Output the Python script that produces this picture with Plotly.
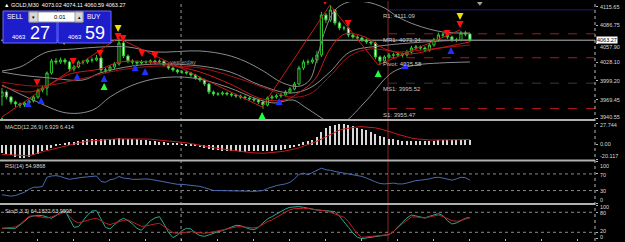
import plotly.graph_objects as go

# ---------------- data ----------------
bars = list(range(105))
open_ = [3975.0, 3981.6, 3973.7, 3965.8, 3962.7, 3961.1, 3964.3, 3967.4, 3973.7, 3984.7,
         3987.9, 4011.6, 4030.5, 4028.9, 4032.1, 4028.9, 4017.9, 4021.0, 4028.9, 4028.9,
         4032.1, 4032.1, 4035.2, 4016.3, 4016.3, 4021.0, 4025.8, 4058.9, 4038.4, 4030.5,
         4028.9, 4027.3, 4028.9, 4028.9, 4030.5, 4028.9, 4030.0, 4024.2, 4019.5, 4016.3,
         4013.2, 4013.2, 4011.6, 4008.4, 4003.7, 4000.5, 3994.2, 3981.6, 3978.4, 3978.4,
         3980.0, 3978.4, 3976.9, 3975.3, 3973.7, 3972.1, 3970.6, 3969.0, 3965.8, 3961.1,
         3972.1, 3973.7, 3975.3, 3976.9, 3981.6, 3986.3, 3994.2, 4019.5, 4028.9, 4028.9,
         4032.1, 4039.9, 4103.0, 4095.2, 4110.9, 4090.4, 4082.5, 4082.5, 4071.5, 4068.3,
         4066.8, 4063.6, 4060.5, 4058.9, 4036.8, 4030.5, 4036.8, 4039.9, 4039.9, 4041.5,
         4039.9, 4044.7, 4051.0, 4052.6, 4051.0, 4047.8, 4055.7, 4063.6, 4071.5, 4071.5,
         4068.3, 4063.6, 4063.6, 4074.6, 4073.02]
high = [3988.0, 3984.0, 3975.0, 3968.0, 3965.0, 3967.0, 3970.0, 3976.0, 3987.0, 3991.0,
        4014.0, 4034.0, 4035.0, 4036.0, 4035.0, 4031.0, 4024.0, 4031.0, 4032.0, 4035.0,
        4036.0, 4040.0, 4038.0, 4020.0, 4024.0, 4029.0, 4066.0, 4062.0, 4041.0, 4033.0,
        4031.0, 4032.0, 4031.5, 4033.0, 4032.5, 4033.0, 4032.0, 4026.0, 4021.5, 4018.0,
        4016.0, 4015.0, 4013.5, 4010.0, 4006.0, 4002.5, 3996.0, 3984.0, 3981.5, 3983.0,
        3982.0, 3980.5, 3979.0, 3977.5, 3976.0, 3974.5, 3973.0, 3971.0, 3968.0, 3974.5,
        3977.0, 3978.5, 3980.0, 3984.5, 3989.5, 3997.5, 4023.0, 4032.5, 4033.0, 4036.0,
        4046.0, 4107.8, 4106.0, 4118.8, 4112.0, 4093.0, 4086.0, 4084.5, 4074.0, 4071.0,
        4069.0, 4066.0, 4063.0, 4061.0, 4039.0, 4039.5, 4043.0, 4043.5, 4045.0, 4044.0,
        4048.0, 4054.5, 4056.0, 4055.0, 4053.5, 4059.0, 4067.0, 4075.0, 4075.0, 4073.5,
        4070.5, 4067.0, 4078.0, 4078.0, 4074.11]
low = [3960.0, 3970.0, 3962.0, 3958.0, 3956.5, 3958.0, 3961.0, 3965.0, 3971.0, 3981.0,
       3976.0, 4009.0, 4025.0, 4026.0, 4025.0, 4014.0, 4014.0, 4019.0, 4025.0, 4026.0,
       4028.0, 4030.0, 4012.0, 4011.0, 4013.0, 4018.0, 4023.0, 4035.0, 4027.0, 4025.0,
       4024.0, 4025.0, 4026.0, 4026.5, 4026.0, 4026.5, 4021.5, 4017.0, 4013.5, 4010.5,
       4010.0, 4009.0, 4005.5, 4001.0, 3997.5, 3991.0, 3978.0, 3975.0, 3975.5, 3976.0,
       3975.5, 3974.0, 3972.5, 3971.0, 3969.5, 3968.0, 3966.0, 3962.5, 3955.0, 3959.0,
       3969.5, 3971.0, 3972.5, 3974.5, 3979.0, 3984.0, 3992.0, 4016.0, 4024.5, 4026.0,
       4027.0, 4037.0, 4090.0, 4092.0, 4087.0, 4079.0, 4078.5, 4068.0, 4065.5, 4063.5,
       4060.5, 4057.5, 4055.5, 4033.0, 4024.0, 4027.5, 4034.0, 4035.5, 4036.5, 4036.0,
       4037.5, 4042.0, 4048.0, 4047.5, 4044.5, 4045.0, 4053.0, 4061.0, 4067.5, 4065.0,
       4060.5, 4060.0, 4061.5, 4069.5, 4060.59]
close = [3981.6, 3973.7, 3965.8, 3962.7, 3961.1, 3964.3, 3967.4, 3973.7, 3984.7, 3987.9,
         4011.6, 4030.5, 4028.9, 4032.1, 4028.9, 4017.9, 4021.0, 4028.9, 4028.9, 4032.1,
         4032.1, 4035.2, 4016.3, 4016.3, 4021.0, 4025.8, 4058.9, 4038.4, 4030.5, 4028.9,
         4027.3, 4028.9, 4028.9, 4030.5, 4028.9, 4030.0, 4024.2, 4019.5, 4016.3, 4013.2,
         4013.2, 4011.6, 4008.4, 4003.7, 4000.5, 3994.2, 3981.6, 3978.4, 3978.4, 3980.0,
         3978.4, 3976.9, 3975.3, 3973.7, 3972.1, 3970.6, 3969.0, 3965.8, 3961.1, 3972.1,
         3973.7, 3975.3, 3976.9, 3981.6, 3986.3, 3994.2, 4019.5, 4028.9, 4028.9, 4032.1,
         4039.9, 4103.0, 4095.2, 4110.9, 4090.4, 4082.5, 4082.5, 4071.5, 4068.3, 4066.8,
         4063.6, 4060.5, 4058.9, 4036.8, 4030.5, 4036.8, 4039.9, 4039.9, 4041.5, 4039.9,
         4044.7, 4051.0, 4052.6, 4051.0, 4047.8, 4055.7, 4063.6, 4071.5, 4071.5, 4068.3,
         4063.6, 4063.6, 4074.6, 4073.02, 4063.27]

# Bollinger bands / moving averages / zigzag (vertices: bar index, price)
bb_up_x = [0, 4, 10, 16, 22, 28, 34, 44, 50, 54, 58, 62.4, 66, 68.4, 70.2, 72, 74, 77, 81, 85, 88, 92, 98, 104]
bb_up_y = [4014.7, 4021.0, 4044.7, 4049.4, 4052.6, 4052.6, 4044.7, 4046.3, 4039.9, 4030.0, 4015.0, 3995.8,
           3990.5, 4000.5, 4040.0, 4082.5, 4110.9, 4123.5, 4123.5, 4114.1, 4099.9, 4087.3, 4076.2, 4074.6]
bb_mid_x = [0, 4, 10.7, 18, 21.8, 29, 35, 44, 50.7, 57.3, 64, 68.4, 72.9, 77.3, 84, 90.7, 97.3, 104]
bb_mid_y = [4013.2, 4008.4, 4003.7, 4000.5, 4011.6, 4022.6, 4025.8, 4022.6, 4013.2, 3992.6, 3980.0, 3987.9,
            4013.2, 4044.7, 4054.2, 4058.9, 4062.0, 4063.6]
bb_lo_x = [0, 6.9, 14.4, 20.2, 24, 29.1, 35.1, 42.4, 50, 57.3, 60.7, 64.7, 67.3, 70.7, 74, 76.2, 81.1, 86.9, 92.2, 97.3, 104]
bb_lo_y = [3992.6, 3969.0, 3948.5, 3953.2, 3973.7, 3992.6, 4003.7, 4003.7, 3989.5, 3969.0, 3964.3, 3969.0,
           3958.0, 3942.2, 3928.0, 3934.3, 3969.0, 4013.2, 4024.2, 4027.3, 4028.9]
ma_fast_x = [0, 6.2, 10.7, 15.1, 21.8, 26.2, 32.9, 38.4, 44, 50.7, 57.8, 62.9, 66.2, 69.6, 72.9, 76.2, 80.7, 85.1, 90.7, 96.2, 104]
ma_fast_y = [3990.9, 3981.6, 3994.2, 4010.0, 4017.9, 4028.9, 4028.9, 4022.6, 4013.2, 3994.2, 3970.6, 3969.0,
             3981.6, 4002.1, 4049.4, 4073.1, 4068.3, 4049.4, 4041.5, 4049.4, 4060.5]
ma_slow_x = [0, 8.4, 17.3, 26.2, 35.1, 44, 52.9, 59.6, 64, 68.4, 72.9, 77.3, 81.8, 88.4, 95.1, 104]
ma_slow_y = [3997.3, 3990.9, 4001.9, 4016.3, 4022.6, 4019.5, 4002.1, 3984.7, 3973.7, 3978.4, 4006.8, 4038.4,
             4049.4, 4044.7, 4049.4, 4055.7]
zz_x = [0, 25.8, 57.8, 72.9, 83.6, 101.8]
zz_y = [3942.2, 4066.8, 3958.0, 4118.8, 4024.2, 4079.4]

# signal arrows
yellow_x = [13.8, 25.8, 101.8]
yellow_y = [4055.7, 4076.2, 4095.2]
red_x = [7.8, 15.8, 21.8, 25.8, 26.9, 31.1, 34.0, 71.8, 76.9, 98.9, 101.8]
red_y = [3991.1, 4024.2, 4036.8, 4063.6, 4060.5, 4036.8, 4033.6, 4118.8, 4084.1, 4068.3, 4082.5]
blue_x = [5.8, 8.7, 16.7, 22.7, 29.6, 31.8, 61.6, 89.6, 99.8]
blue_y = [3969.0, 3973.7, 4011.6, 4008.4, 4025.8, 4019.5, 3972.1, 4028.9, 4052.6]
lime_x = [0, 22.7, 57.8, 83.6]
lime_y = [3942.2, 3995.8, 3950.1, 4016.3]

# pivot levels
pivot_names = ["R1", "MR1", "Pivot", "MS1", "S1"]
pivot_vals = [4111.09, 4073.34, 4035.58, 3995.52, 3955.47]
pivot_colors = ["#1c1c78", "#9a1e1e", "#b01818", "#3a3a3a", "#b01818"]
pivot_dash = ["solid", "dash", "dash", "dash", "dash"]

# right-scale labels: (text, pixel row)
price_ticks = [4115.65, 4086.75, 4057.90, 4028.10, 3999.20, 3969.45, 3940.55]
price_label_rows = [7, 25.5, 46.5, 62.5, 81, 100, 117.5]
macd_ticks = [27.744, 0.0, -20.117]
macd_labels = ["27.744", "0.00", "-20.117"]
macd_label_rows = [125, 144, 155.5]
rsi_ticks = [100, 70, 30, 0]
rsi_label_rows = [165.5, 175, 191, 199.5]
sto_ticks = [100, 80, 20, 0]
sto_label_rows = [207, 213, 230.5, 236.5]
last_price = 4063.27

macd = [-10.7, -12.3, -14.0, -15.8, -17.2, -17.4, -15.8, -13.2, -11.7, -8.7,
        -6.7, -4.2, -2.0, 0.7, 1.9, 3.1, 3.9, 4.7, 6.0, 7.2,
        7.3, 7.6, 7.8, 8.3, 8.0, 7.8, 8.5, 8.4, 8.0, 7.6,
        7.2, 6.7, 6.2, 5.5, 4.7, 4.0, 3.2, 2.4, 1.8, 1.1,
        0.4, -0.4, -1.3, -2.2, -3.2, -4.3, -5.4, -6.4, -7.2, -7.8,
        -8.5, -8.9, -8.9, -9.1, -9.1, -8.9, -8.9, -8.7, -8.7, -8.3,
        -7.8, -7.3, -6.7, -6.0, -4.9, -3.2, -0.5, 3.7, 5.1, 7.0,
        10.2, 17.2, 21.9, 24.5, 26.4, 27.744, 27.2, 26.0, 24.5, 22.7,
        20.9, 19.6, 16.9, 13.8, 11.6, 9.8, 8.4, 7.1, 5.8, 4.9,
        4.5, 4.5, 4.5, 4.5, 4.7, 5.1, 5.6, 6.0, 6.1, 6.1,
        6.2, 6.4, 6.6, 6.8, 6.929]
macd_signal = [-13.6, -14.0, -14.5, -14.9, -15.3, -15.5, -15.3, -13.5, -11.4, -9.9,
               -8.4, -7.1, -5.5, -4.0, -2.5, -1.0, 0.4, 1.9, 3.3, 4.2,
               4.7, 5.3, 5.9, 6.3, 6.7, 7.0, 7.2, 7.3, 7.3, 7.3,
               7.2, 7.1, 7.0, 6.8, 6.3, 5.9, 5.3, 4.7, 4.2, 3.6,
               3.0, 2.0, 0.9, -0.3, -1.4, -2.5, -3.5, -4.6, -5.5, -6.4,
               -7.3, -8.0, -8.7, -9.5, -10.1, -10.8, -11.4, -11.9, -11.9, -11.5,
               -11.1, -10.4, -9.7, -8.8, -7.8, -6.2, -4.7, -2.6, -0.5, 1.7,
               4.2, 7.0, 10.2, 13.5, 16.3, 18.9, 20.5, 21.7, 22.6, 23.2,
               23.5, 23.3, 22.8, 21.9, 20.7, 19.1, 17.1, 15.2, 13.2, 11.3,
               9.8, 8.4, 7.3, 6.5, 6.0, 5.8, 5.7, 5.7, 5.7, 5.7,
               5.8, 5.9, 6.1, 6.3, 6.414]
rsi = [20, 18, 16.5, 18, 22, 26, 33, 38, 38, 40,
       62, 65, 66, 64, 60, 57, 59, 61, 62, 63,
       64, 65, 52, 50, 56, 58, 64, 60, 59, 57,
       57, 58, 58, 57, 55, 53, 51, 49, 47, 45,
       45, 44, 43, 42, 40, 37, 33, 30, 30, 30,
       30, 30, 29.5, 29, 29, 28.5, 28, 29, 30, 35,
       39, 42, 44, 46, 50, 58, 69, 72, 68, 74,
       79, 84, 80, 79, 76, 74, 72, 70, 68, 67,
       64, 60, 55, 51, 47, 46, 47, 48, 46, 46,
       48, 51, 54, 55, 56, 58, 61, 62, 60, 58,
       55, 58, 62, 61, 54.9868]
sto_main = [32, 32, 32, 32, 42, 55, 65, 69, 71, 70,
            66, 62, 70, 80, 85, 58, 35, 37, 55, 72,
            84, 85, 60, 35, 30, 42, 55, 62, 55, 45,
            32, 26, 40, 55, 63, 67, 45, 20, 4, 12,
            25, 32, 30, 18, 10, 8, 12, 18, 22, 25,
            30, 36, 41, 40, 35, 30, 28, 35, 48, 60,
            67, 75, 83, 90, 95, 97, 97, 95, 92, 89,
            87, 86, 84, 83, 82, 68, 50, 35, 18, 5,
            1, 3, 5, 7, 9, 11, 13, 22, 37, 50,
            63, 72, 69, 65, 63, 68, 73, 76, 70, 55,
            45, 48, 55, 62, 64.1832]
sto_signal = [32, 33, 34, 36, 44, 55, 68, 70, 68, 64,
              63, 66, 71, 78, 81, 68, 55, 48, 51, 56,
              60, 62, 55, 47, 43, 48, 53, 56, 57, 50,
              43, 38, 39, 43, 45, 47, 38, 28, 19, 17,
              19, 22, 22, 20, 18, 17, 19, 21, 24, 27,
              30, 34, 36, 37, 36, 34, 33, 36, 44, 52,
              57, 65, 74, 82, 88, 91, 92, 92, 91, 89,
              88, 87, 84, 80, 75, 70, 65, 52, 32, 15,
              5, 6, 7, 8, 10, 11, 13, 22, 35, 46,
              56, 66, 66, 64, 63, 66, 69, 72, 67, 60,
              55, 53, 55, 60, 63.9998]

# ---------------- figure ----------------
W, H = 625, 242
ML, MR, MT, MB = 1, 30, 1, 1
PW, PH = W - ML - MR, H - MT - MB


def px(x):
    return (x - ML) / PW


def py(y):
    return 1 - (y - MT) / PH


FONT = "Liberation Sans"
TXT = "#d8d8d8"
GREEN = "#2ec82e"
XR = [-0.22, 131.8]
DAY_SEP = 39.8
TODAY = 85.8

fig = go.Figure()

for xs, ys, col, shp in [(bb_up_x, bb_up_y, "#8c8c8c", "spline"), (bb_mid_x, bb_mid_y, "#8c8c8c", "spline"),
                         (bb_lo_x, bb_lo_y, "#8c8c8c", "spline"), (ma_slow_x, ma_slow_y, "#a01414", "spline"),
                         (ma_fast_x, ma_fast_y, "#d01818", "spline"), (zz_x, zz_y, "#c81c1c", "linear")]:
    fig.add_trace(go.Scatter(x=xs, y=ys, mode="lines", line=dict(color=col, width=1, shape=shp),
                             xaxis="x", yaxis="y", hoverinfo="skip"))

fig.add_trace(go.Candlestick(x=bars, open=open_, high=high, low=low, close=close,
                             increasing=dict(line=dict(color=GREEN, width=1), fillcolor="black"),
                             decreasing=dict(line=dict(color=GREEN, width=1), fillcolor="white"),
                             whiskerwidth=0, xaxis="x", yaxis="y"))

fig.add_trace(go.Scatter(x=yellow_x, y=yellow_y, mode="markers",
                         marker=dict(symbol="arrow-down", size=7, color="#f0e000"), xaxis="x", yaxis="y"))
fig.add_trace(go.Scatter(x=red_x, y=red_y, mode="markers",
                         marker=dict(symbol="arrow-down", size=7, color="#ff1010"), xaxis="x", yaxis="y"))
fig.add_trace(go.Scatter(x=blue_x, y=blue_y, mode="markers",
                         marker=dict(symbol="arrow-up", size=7, color="#2030ff"), xaxis="x", yaxis="y"))
fig.add_trace(go.Scatter(x=lime_x, y=lime_y, mode="markers",
                         marker=dict(symbol="arrow-up", size=7, color="#20ff40"), xaxis="x", yaxis="y"))

# MACD
fig.add_trace(go.Bar(x=bars, y=macd, width=0.4, marker=dict(color="#d8d8d8", line=dict(width=0)),
                     xaxis="x", yaxis="y2"))
fig.add_trace(go.Scatter(x=bars, y=macd_signal, mode="lines", line=dict(color="#c81c1c", width=1),
                         xaxis="x", yaxis="y2"))
# RSI
fig.add_trace(go.Scatter(x=bars, y=rsi, mode="lines", line=dict(color="#4a6ab0", width=1),
                         xaxis="x", yaxis="y3"))
# Stochastic
fig.add_trace(go.Scatter(x=bars, y=sto_main, mode="lines", line=dict(color="#2aa890", width=1),
                         xaxis="x", yaxis="y4"))
fig.add_trace(go.Scatter(x=bars, y=sto_signal, mode="lines", line=dict(color="#c02020", width=1),
                         xaxis="x", yaxis="y4"))

# chart shift marker
fig.add_trace(go.Scatter(x=[106.2], y=[4121.5], mode="markers",
                         marker=dict(symbol="triangle-down", size=5, color="#a0a0a0"),
                         xaxis="x", yaxis="y"))

shapes = []
annotations = []

for name, val, col, dsh in zip(pivot_names, pivot_vals, pivot_colors, pivot_dash):
    shapes.append(dict(type="line", xref="x", yref="y", x0=TODAY, x1=XR[1], y0=val, y1=val,
                       line=dict(color=col, width=1, dash=dsh), layer="below"))
    annotations.append(dict(xref="x", yref="y", x=84.2, y=val, text=f"{name}: {val:.2f}",
                            xanchor="left", yanchor="top", yshift=-1, showarrow=False,
                            font=dict(family=FONT, size=6, color="#c8c8c8")))

shapes.append(dict(type="line", xref="paper", yref="y", x0=0, x1=1, y0=last_price, y1=last_price,
                   line=dict(color="#b8b8b8", width=1), layer="below"))
shapes.append(dict(type="line", xref="x", yref="paper", x0=DAY_SEP, x1=DAY_SEP, y0=0, y1=1,
                   line=dict(color="#9a9a9a", width=1, dash="dot"), layer="below"))
shapes.append(dict(type="line", xref="x", yref="paper", x0=TODAY, x1=TODAY, y0=0, y1=1,
                   line=dict(color="#8a2424", width=1), layer="below"))
for ax, v in [("y3", 70), ("y3", 30), ("y4", 80), ("y4", 20)]:
    shapes.append(dict(type="line", xref="paper", yref=ax, x0=0, x1=1, y0=v, y1=v,
                       line=dict(color="#8a8a8a", width=1, dash="dot"), layer="below"))
for yy in [120, 160.5, 204]:
    shapes.append(dict(type="line", xref="paper", yref="paper", x0=px(0), x1=1, y0=py(yy), y1=py(yy),
                       line=dict(color="#b0b0b0", width=2)))
shapes.append(dict(type="line", xref="paper", yref="paper", x0=1, x1=1, y0=0, y1=1,
                   line=dict(color="#b8b8b8", width=1, dash="dot")))

# trade panel
shapes += [
    dict(type="rect", xref="paper", yref="paper", x0=px(3), x1=px(57), y0=py(43), y1=py(11),
         fillcolor="#1d1dcc", line=dict(color="#6a6aff", width=1)),
    dict(type="rect", xref="paper", yref="paper", x0=px(58), x1=px(111), y0=py(43), y1=py(11),
         fillcolor="#1d1dcc", line=dict(color="#6a6aff", width=1)),
    dict(type="rect", xref="paper", yref="paper", x0=px(29), x1=px(83), y0=py(22), y1=py(12),
         fillcolor="white", line=dict(color="#9a9a9a", width=1)),
    dict(type="rect", xref="paper", yref="paper", x0=px(29), x1=px(38), y0=py(22), y1=py(12),
         fillcolor="#d8d8d8", line=dict(color="#9a9a9a", width=1)),
    dict(type="rect", xref="paper", yref="paper", x0=px(75), x1=px(83), y0=py(22), y1=py(12),
         fillcolor="#d8d8d8", line=dict(color="#9a9a9a", width=1)),
]


def ann(x, y, text, size=6, color=TXT, xanchor="left", **kw):
    annotations.append(dict(xref="paper", yref="paper", x=px(x), y=py(y), text=text, showarrow=False,
                            xanchor=xanchor, yanchor="middle",
                            font=dict(family=FONT, size=size, color=color), **kw))


ann(2, 5, "▲ GOLD,M30  4073.02 4074.11 4060.59 4063.27", size=5.5, color="white")
ann(15, 17, "SELL", size=6.5, color="white", xanchor="center")
ann(94, 17, "BUY", size=6.5, color="white", xanchor="center")
ann(68, 17, "0.01", size=6, color="black", xanchor="right")
ann(33.5, 17, "▾", size=5, color="black", xanchor="center")
ann(79, 17, "▴", size=5, color="black", xanchor="center")
ann(18.5, 36.5, "4063", size=6, color="white", xanchor="center")
ann(39.5, 33, "27", size=18, color="white", xanchor="center")
ann(74.5, 36.5, "4063", size=6, color="white", xanchor="center")
ann(94.5, 33, "59", size=18, color="white", xanchor="center")
ann(3, 126.5, "MACD(12,26,9) 6.929 6.414", size=5.5)
ann(3, 165.5, "RSI(14) 54.9868", size=5.5)
ann(3, 210.5, "Sto(5,3,3) 64.1832 63.9998", size=5.5)
annotations.append(dict(xref="x", yref="y", x=36.9, y=4028.9, text="yesterday", showarrow=False,
                        xanchor="left", yanchor="middle",
                        font=dict(family=FONT, size=6, color="#9a9a9a")))

# right scale labels
for texts, rows in [([f"{v:.2f}" for v in price_ticks], price_label_rows),
                    (macd_labels, macd_label_rows),
                    ([str(v) for v in rsi_ticks], rsi_label_rows),
                    ([str(v) for v in sto_ticks], sto_label_rows)]:
    for t, r in zip(texts, rows):
        ann(598, r, t, size=5.5)
# current price box
annotations.append(dict(xref="paper", yref="y", x=1, y=last_price, text=f"{last_price:.2f}", showarrow=False,
                        xanchor="left", yanchor="middle", xshift=1, bgcolor="white", borderpad=0,
                        font=dict(family=FONT, size=5.5, color="black")))

yax_common = dict(side="right", anchor="x", showgrid=False, zeroline=False, showline=False,
                  ticks="outside", ticklen=2, tickcolor="#b8b8b8", showticklabels=False, fixedrange=True)

fig.update_layout(
    width=W, height=H, margin=dict(l=ML, r=MR, t=MT, b=MB),
    paper_bgcolor="black", plot_bgcolor="black", showlegend=False,
    xaxis=dict(range=XR, anchor="y4", showgrid=False, zeroline=False, showline=False,
               tickvals=[7.8 + 8 * k for k in range(16)], ticks="inside", ticklen=2,
               tickcolor="#b8b8b8", showticklabels=False, rangeslider=dict(visible=False)),
    yaxis=dict(domain=[py(119), py(2)], range=[3939.0, 4123.5], tickvals=price_ticks, **yax_common),
    yaxis2=dict(domain=[py(159.5), py(121.5)], range=[-20.25, 30.4], tickvals=macd_ticks, **yax_common),
    yaxis3=dict(domain=[py(203), py(161.5)], range=[0, 100], tickvals=rsi_ticks, **yax_common),
    yaxis4=dict(domain=[0, py(205)], range=[-6.1, 101.9], tickvals=sto_ticks, **yax_common),
    shapes=shapes, annotations=annotations, bargap=0,
)

fig.write_html("out.html")
